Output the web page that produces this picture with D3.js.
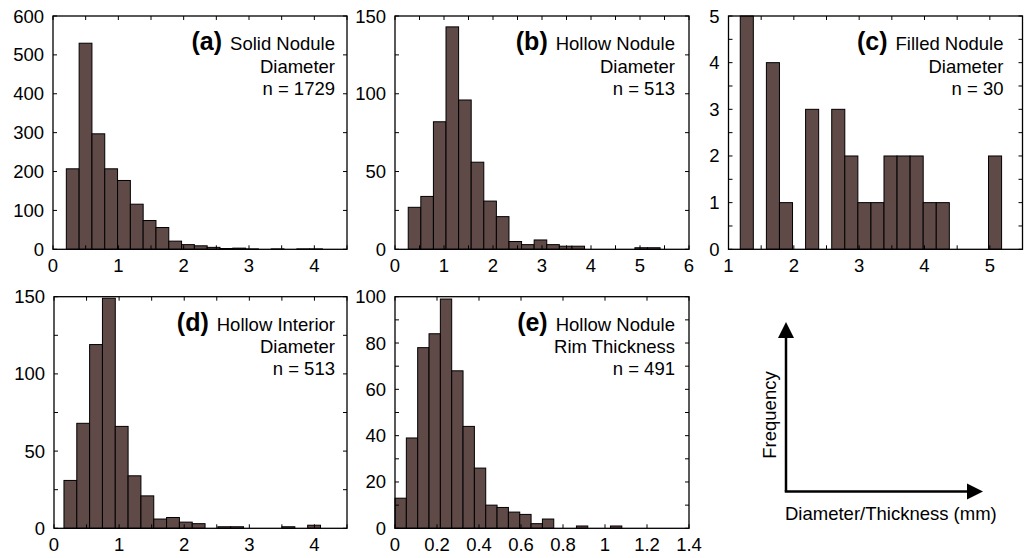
<!DOCTYPE html>
<html>
<head>
<meta charset="utf-8">
<script src="https://cdn.jsdelivr.net/npm/d3@7"></script>
<style>
	body { margin: 0; background: #fff; }
	svg { display: block; font-family: "Liberation Sans", Arial, Helvetica, sans-serif; }
</style>
</head>
<body>
<svg id="chart" width="1026" height="558"></svg>
<script>
	// histogram data (20 bins per panel)
	var solidStart = 0.204, solidWidth = 0.196;
	var solidCounts = [207, 530, 297, 207, 177, 116, 74, 56, 21, 12, 9, 5, 2, 3, 1, 0, 1, 0, 1, 1];

	var hollowStart = 0.27, hollowWidth = 0.257;
	var hollowCounts = [27, 34, 82, 143, 96, 56, 31, 21, 5, 3, 6, 3, 2, 2, 0, 0, 0, 0, 1, 1];

	var filledStart = 1.18, filledWidth = 0.2;
	var filledCounts = [5, 0, 4, 1, 0, 3, 0, 3, 2, 1, 1, 2, 2, 2, 1, 1, 0, 0, 0, 2];

	var interiorStart = 0.153, interiorWidth = 0.197;
	var interiorCounts = [31, 68, 119, 149, 66, 34, 21, 6, 7, 4, 3, 0, 1, 1, 0, 0, 0, 1, 0, 2];

	var rimStart = 0, rimWidth = 0.054;
	var rimCounts = [13, 39, 78, 84, 99, 68, 44, 26, 10, 9, 7, 6, 2, 4, 0, 0, 1, 0, 0, 1];

	// tick labels
	var solidXTicks = [0, 1, 2, 3, 4], solidYTicks = [0, 100, 200, 300, 400, 500, 600];
	var hollowXTicks = [0, 1, 2, 3, 4, 5, 6], hollowYTicks = [0, 50, 100, 150];
	var filledXTicks = [1, 2, 3, 4, 5], filledYTicks = [0, 1, 2, 3, 4, 5];
	var interiorXTicks = [0, 1, 2, 3, 4], interiorYTicks = [0, 50, 100, 150];
	var rimXTicks = [0, 0.2, 0.4, 0.6, 0.8, 1, 1.2, 1.4], rimYTicks = [0, 20, 40, 60, 80, 100];

	var barFill = "#5f4a48";

	var panels = [
		{ tag: "(a)", lines: ["Solid Nodule", "Diameter", "n = 1729"],
			start: solidStart, width: solidWidth, counts: solidCounts,
			xDomain: [0, 4.5], yDomain: [0, 600], xTicks: solidXTicks, yTicks: solidYTicks,
			xMinor: 0.5, yMinor: 100,
			box: [53, 16, 347, 249.3], textGap: 12 },
		{ tag: "(b)", lines: ["Hollow Nodule", "Diameter", "n = 513"],
			start: hollowStart, width: hollowWidth, counts: hollowCounts,
			xDomain: [0, 6], yDomain: [0, 150], xTicks: hollowXTicks, yTicks: hollowYTicks,
			xMinor: 0.5, yMinor: 25,
			box: [395, 16, 689, 249.3], textGap: 14 },
		{ tag: "(c)", lines: ["Filled Nodule", "Diameter", "n = 30"],
			start: filledStart, width: filledWidth, counts: filledCounts,
			xDomain: [1, 5.5], yDomain: [0, 5], xTicks: filledXTicks, yTicks: filledYTicks,
			xMinor: 0.5, yMinor: 0.5,
			box: [728.5, 16, 1022.5, 249.3], textGap: 19 },
		{ tag: "(d)", lines: ["Hollow Interior", "Diameter", "n = 513"],
			start: interiorStart, width: interiorWidth, counts: interiorCounts,
			xDomain: [0, 4.5], yDomain: [0, 150], xTicks: interiorXTicks, yTicks: interiorYTicks,
			xMinor: 0.5, yMinor: 25,
			box: [54, 296.7, 347, 528.3], textGap: 12 },
		{ tag: "(e)", lines: ["Hollow Nodule", "Rim Thickness", "n = 491"],
			start: rimStart, width: rimWidth, counts: rimCounts,
			xDomain: [0, 1.4], yDomain: [0, 100], xTicks: rimXTicks, yTicks: rimYTicks,
			xMinor: 0.2, yMinor: 10,
			box: [395, 296.7, 689, 528.3], textGap: 14 }
	];

	var svg = d3.select("#chart");

	function minorTicks(domain, step) {
		var out = [];
		for (var i = 0; ; i++) {
			var v = +(domain[0] + i * step).toFixed(6);
			if (v > domain[1] + 1e-9) break;
			out.push(v);
		}
		return out;
	}

	function drawPanel(p) {

		var x = d3.scaleLinear().domain(p.xDomain).range([p.box[0], p.box[2]]),
			y = d3.scaleLinear().domain(p.yDomain).range([p.box[3], p.box[1]]),
			g = svg.append("g"),
			tickLen = 4;

		var bins = p.counts.map(function(c, i) {
			return { x0: p.start + i * p.width, x1: p.start + (i + 1) * p.width, n: c };
		}).filter(function(d) { return d.n > 0; });

		g.selectAll("rect.bar").data(bins).enter().append("rect")
			.attr("class", "bar")
			.attr("x", function(d) { return x(d.x0); })
			.attr("width", function(d) { return x(d.x1) - x(d.x0); })
			.attr("y", function(d) { return y(d.n); })
			.attr("height", function(d) { return y(0) - y(d.n); })
			.attr("fill", barFill)
			.attr("stroke", "#000")
			.attr("stroke-width", 1);

		// inward ticks on all four sides
		var xt = minorTicks(p.xDomain, p.xMinor),
			yt = minorTicks(p.yDomain, p.yMinor);

		g.selectAll("line.xt").data(xt).enter().append("line")
			.attr("x1", x).attr("x2", x)
			.attr("y1", p.box[3]).attr("y2", p.box[3] - tickLen)
			.attr("stroke", "#000");
		g.selectAll("line.xtt").data(xt).enter().append("line")
			.attr("x1", x).attr("x2", x)
			.attr("y1", p.box[1]).attr("y2", p.box[1] + tickLen)
			.attr("stroke", "#000");
		g.selectAll("line.yt").data(yt).enter().append("line")
			.attr("y1", y).attr("y2", y)
			.attr("x1", p.box[0]).attr("x2", p.box[0] + tickLen)
			.attr("stroke", "#000");
		g.selectAll("line.ytr").data(yt).enter().append("line")
			.attr("y1", y).attr("y2", y)
			.attr("x1", p.box[2]).attr("x2", p.box[2] - tickLen)
			.attr("stroke", "#000");

		g.append("rect")
			.attr("x", p.box[0]).attr("y", p.box[1])
			.attr("width", p.box[2] - p.box[0]).attr("height", p.box[3] - p.box[1])
			.attr("fill", "none").attr("stroke", "#000").attr("stroke-width", 1.3);

		g.selectAll("text.xl").data(p.xTicks).enter().append("text")
			.attr("x", x).attr("y", p.box[3] + 22.5)
			.attr("text-anchor", "middle")
			.attr("font-size", 18.5)
			.text(function(d) { return d; });

		g.selectAll("text.yl").data(p.yTicks).enter().append("text")
			.attr("x", p.box[0] - 9).attr("y", function(d) { return y(d) + 6.5; })
			.attr("text-anchor", "end")
			.attr("font-size", 18.5)
			.text(function(d) { return d; });

		var tx = p.box[2] - p.textGap,
			first = g.append("text")
				.attr("x", tx).attr("y", p.box[1] + 34)
				.attr("text-anchor", "end")
				.attr("font-size", 18.5);
		first.append("tspan").attr("font-weight", "bold").attr("font-size", 25).text(p.tag);
		first.append("tspan").attr("dx", 8).text(p.lines[0]);

		p.lines.slice(1).forEach(function(l, i) {
			g.append("text")
				.attr("x", tx).attr("y", p.box[1] + 56.5 + i * 22)
				.attr("text-anchor", "end")
				.attr("font-size", 18.5)
				.text(l);
		});
	}

	panels.forEach(drawPanel);

	// key: axes meaning
	var key = svg.append("g"),
		ox = 786, oy = 491.5, topY = 322, rightX = 983, head = 16, half = 8;

	key.append("line").attr("x1", ox).attr("y1", oy).attr("x2", ox).attr("y2", topY + head - 2)
		.attr("stroke", "#000").attr("stroke-width", 2.5);
	key.append("line").attr("x1", ox - 1.25).attr("y1", oy).attr("x2", rightX - head + 2).attr("y2", oy)
		.attr("stroke", "#000").attr("stroke-width", 2.5);
	key.append("path")
		.attr("d", "M" + ox + "," + topY + "L" + (ox - half) + "," + (topY + head) + "L" + (ox + half) + "," + (topY + head) + "Z")
		.attr("fill", "#000");
	key.append("path")
		.attr("d", "M" + rightX + "," + oy + "L" + (rightX - head) + "," + (oy - half) + "L" + (rightX - head) + "," + (oy + half) + "Z")
		.attr("fill", "#000");

	key.append("text")
		.attr("transform", "translate(776,415) rotate(-90)")
		.attr("text-anchor", "middle")
		.attr("font-size", 18.5)
		.text("Frequency");
	key.append("text")
		.attr("x", 785).attr("y", 520)
		.attr("font-size", 18.5)
		.text("Diameter/Thickness (mm)");
</script>
</body>
</html>
